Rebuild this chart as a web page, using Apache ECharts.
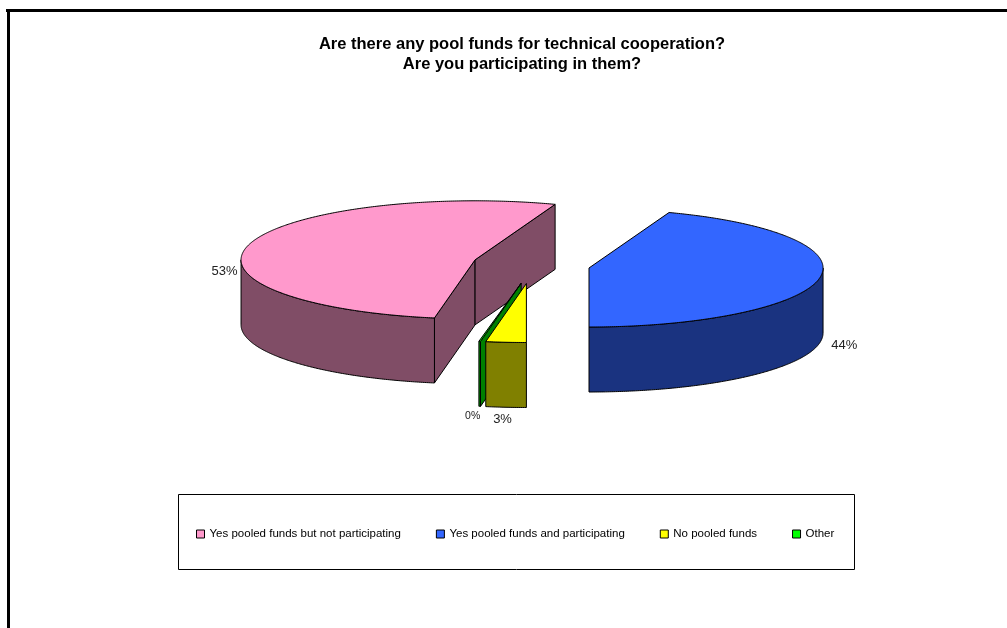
<!DOCTYPE html>
<html>
<head>
<meta charset="utf-8">
<title>Pool funds for technical cooperation</title>
<script src="https://cdn.jsdelivr.net/npm/echarts@6/dist/echarts.min.js"></script>
<style>
  html, body { margin: 0; padding: 0; background: #ffffff; }
  #chart { width: 1007px; height: 628px; }
</style>
</head>
<body>
<div id="chart"></div>
<script>
// Survey answers (number of respondents per answer)
const categories = [
  'Yes pooled funds but not participating',
  'Yes pooled funds and participating',
  'No pooled funds',
  'Other'
];
const responses = [19, 16, 1, 0];

// Slice colours: top face and the shaded walls
const topColors  = ['#FF99CC', '#3366FF', '#FFFF00', '#00FF00'];
const sideColors = ['#804D66', '#1A3380', '#808000', '#008000'];

const FONT = '"Liberation Sans", Arial, sans-serif';
const total = responses.reduce((a, b) => a + b, 0);
const START_ANGLE = 260;   // degrees, counter-clockwise from 3 o'clock; slices run clockwise
const MIN_ANGLE = 0.4;     // keep empty slices visible as a sliver
const deg = Math.PI / 180;

function cumulativeBefore(i) {
  let s = 0;
  for (let k = 0; k < i; k++) s += responses[k];
  return s;
}

// Draws one exploded 3D pie slice
function sliceRenderer(i) {
  return function (params, api) {
    const W = api.getWidth(), H = api.getHeight();
    const cx0 = W * 0.5278, cy0 = H * 0.4215;
    const rx = W * 0.2324, ry = H * 0.094;
    const depth = H * 0.1035;
    const ex = W * 0.058, ey = H * 0.030;

    const v = api.value(0);
    const a1 = START_ANGLE - 360 * cumulativeBefore(i) / total;
    const span = Math.max(360 * v / total, MIN_ANGLE);
    const a2 = a1 - span;
    const b = (a1 + a2) / 2;

    const cx = cx0 + ex * Math.cos(b * deg);
    const cy = cy0 - ey * Math.sin(b * deg);
    const rim = (t, dz) => [cx + rx * Math.cos(t * deg), cy - ry * Math.sin(t * deg) + dz];

    const base = cy * 100;
    const children = [];
    const faceStyle = (fill) => ({ fill: fill, stroke: '#000', lineWidth: 1, lineJoin: 'round' });

    // radial walls facing the viewer
    const radialWall = (t) => ({
      type: 'polygon',
      z2: base,
      shape: { points: [[cx, cy], rim(t, 0), rim(t, depth), [cx, cy + depth]] },
      style: faceStyle(sideColors[i])
    });
    if (Math.cos(a1 * deg) < -1e-6) children.push(radialWall(a1));
    if (Math.cos(a2 * deg) > 1e-6) children.push(radialWall(a2));

    // outer curved wall on the front half of the ellipse
    for (let k = -2; k <= 2; k++) {
      const lo = Math.max(a2, 180 + 360 * k);
      const hi = Math.min(a1, 360 + 360 * k);
      if (hi - lo > 1e-6) {
        const pts = [];
        const n = Math.max(2, Math.ceil((hi - lo) / 0.5));
        for (let j = 0; j <= n; j++) pts.push(rim(lo + (hi - lo) * j / n, 0));
        for (let j = n; j >= 0; j--) pts.push(rim(lo + (hi - lo) * j / n, depth));
        children.push({
          type: 'polygon', z2: base + 1,
          shape: { points: pts },
          style: faceStyle(sideColors[i])
        });
      }
    }

    // top face
    const topPts = [[cx, cy]];
    const n = Math.max(2, Math.ceil(span / 0.5));
    for (let j = 0; j <= n; j++) topPts.push(rim(a1 - span * j / n, 0));
    children.push({
      type: 'polygon', z2: base + 2,
      shape: { points: topPts },
      style: faceStyle(topColors[i])
    });

    // percentage label
    const cb = Math.cos(b * deg), sb = Math.sin(b * deg);
    const edge = rim(b, 0);
    const side = Math.abs(cb) > 0.3;
    const lx = edge[0] + cb * (side ? 12 : 40);
    const ly = edge[1] - sb * (v === 0 ? 10 : 12) + (sb < 0 ? depth : depth * 0.46);
    children.push({
      type: 'text', z2: base + 3,
      style: {
        text: Math.round(100 * v / total) + '%',
        x: lx, y: ly,
        align: cb < -0.3 ? 'right' : (cb > 0.3 ? 'left' : 'center'),
        verticalAlign: 'middle',
        font: (v === 0 ? '10.5px ' : '13px ') + FONT,
        fill: '#222'
      }
    });

    return { type: 'group', children: children };
  };
}

const chart = echarts.init(document.getElementById('chart'), null, { renderer: 'canvas' });

chart.setOption({
  backgroundColor: '#ffffff',
  animation: false,
  title: {
    text: 'Are there any pool funds for technical cooperation?\nAre you participating in them?',
    left: 522,
    top: 34,
    textAlign: 'center',
    padding: 0,
    textStyle: {
      fontFamily: FONT,
      fontSize: 16.5,
      fontWeight: 'bold',
      color: '#000',
      lineHeight: 20
    }
  },
  legend: {
    data: categories,
    left: 196,
    top: 528,
    padding: 0,
    icon: 'rect',
    itemWidth: 8,
    itemHeight: 8,
    itemGap: 35,
    selectedMode: false,
    itemStyle: { borderColor: '#000', borderWidth: 1 },
    textStyle: { fontFamily: FONT, fontSize: 11.5, color: '#000' }
  },
  graphic: [
    { type: 'line', shape: { x1: 6, y1: 10.5, x2: 1007, y2: 10.5 }, style: { stroke: '#000', lineWidth: 3 } },
    { type: 'line', shape: { x1: 8.5, y1: 9, x2: 8.5, y2: 628 }, style: { stroke: '#000', lineWidth: 3 } },
    { type: 'rect', shape: { x: 178.5, y: 494.5, width: 676, height: 75 }, style: { fill: 'none', stroke: '#000', lineWidth: 1 } }
  ],
  series: categories.map((name, i) => ({
    type: 'custom',
    name: name,
    coordinateSystem: 'none',
    itemStyle: { color: topColors[i] },
    data: [[responses[i]]],
    renderItem: sliceRenderer(i)
  }))
});
</script>
</body>
</html>
